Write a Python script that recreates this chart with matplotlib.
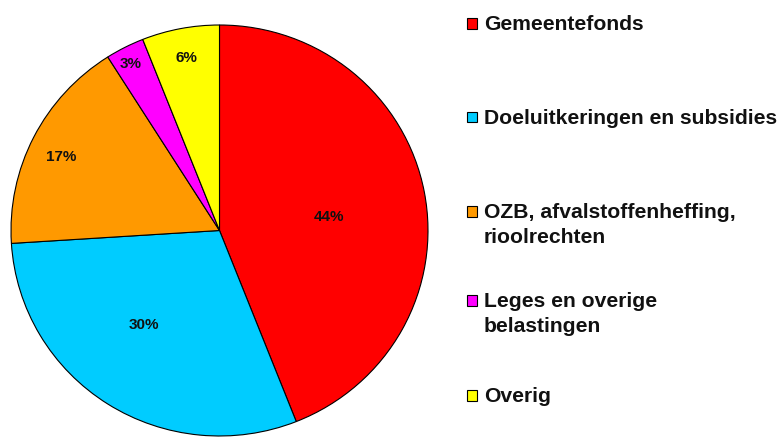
import matplotlib
matplotlib.use("Agg")
import matplotlib.pyplot as plt
from matplotlib.patches import Rectangle
import numpy as np

categories = ["Gemeentefonds", "Doeluitkeringen en subsidies",
              "OZB, afvalstoffenheffing,\nrioolrechten",
              "Leges en overige\nbelastingen", "Overig"]
values = [44, 30, 17, 3, 6]
pct_labels = ["44%", "30%", "17%", "3%", "6%"]
colors = ["#FF0000", "#00CCFF", "#FF9900", "#FF00FF", "#FFFF00"]

W, H = 784, 439
fig = plt.figure(figsize=(W / 100, H / 100), dpi=100)
ax = fig.add_axes([0, 0, 1, 1])

# pie geometry in pixels
cx, cy = 219.5, 231.5
rx, ry = 208.5, 205.5

wedges, _ = ax.pie(values, colors=colors, startangle=90, counterclock=False,
                   wedgeprops=dict(edgecolor="black", linewidth=0.8))
ax.set_aspect("auto")
ax.set_xlim(-cx / rx, (W - cx) / rx)
ax.set_ylim(-(H - cy) / ry, cy / ry)
ax.axis("off")

# label placement (layout): radial factor and angular nudge in degrees
label_r = [0.53, 0.583, 0.842, 0.919, 0.858]
label_dang = [-3.4, -6.3, 1.5, 0.5, -0.3]
for w, lab, r, da in zip(wedges, pct_labels, label_r, label_dang):
    ang = np.deg2rad((w.theta1 + w.theta2) / 2 + da)
    ax.text(r * np.cos(ang), r * np.sin(ang), lab, ha="center", va="center",
            fontsize=11, fontweight="bold", family="Liberation Sans", color="#111111")

# legend drawn manually
baselines = [30, 123.5, 218, 307, 402]
line_gap = 25.5
sq_x, sq_size, txt_x = 467, 10.5, 484
for lab, col, yb in zip(categories, colors, baselines):
    fig.patches.append(Rectangle((sq_x / W, 1 - (yb - 0.5) / H), sq_size / W, sq_size / H,
                                 transform=fig.transFigure, facecolor=col,
                                 edgecolor="black", linewidth=0.8))
    for i, line in enumerate(lab.split("\n")):
        fig.text(txt_x / W, 1 - (yb + i * line_gap) / H, line, ha="left", va="baseline",
                 fontsize=15.2, fontweight="bold", family="Liberation Sans", color="#111111")

fig.savefig("out.png", dpi=100)
